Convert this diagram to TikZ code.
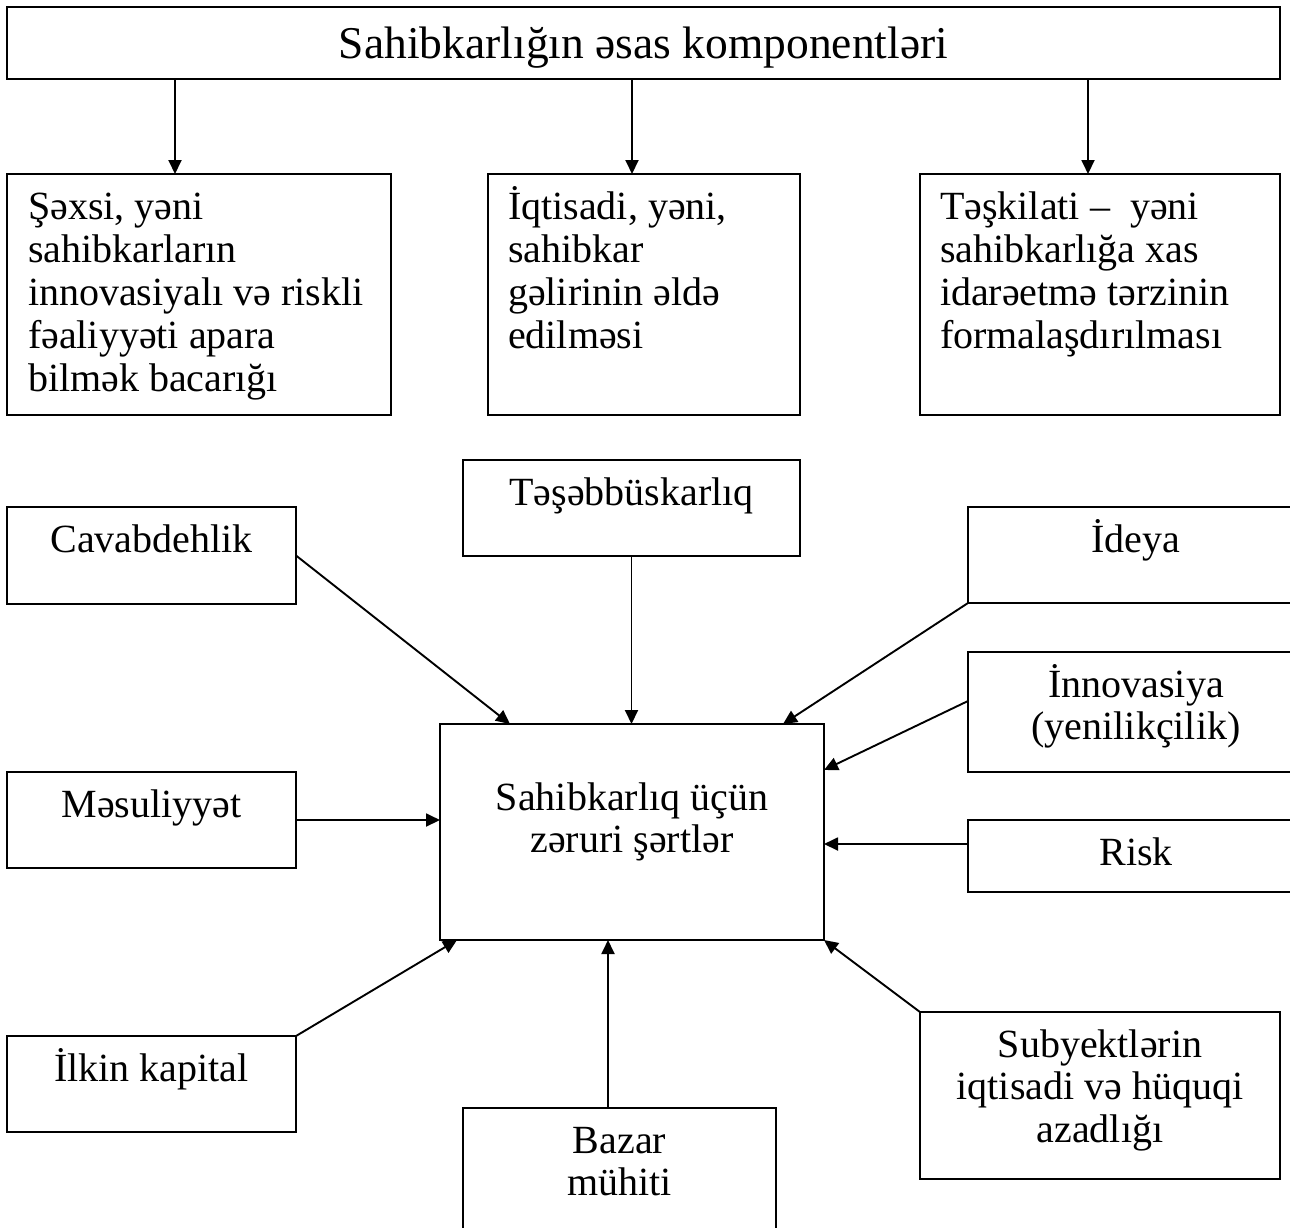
\documentclass[tikz,border=0pt]{standalone}
\usepackage{fontspec}
\setmainfont{Liberation Serif}
\usetikzlibrary{arrows.meta,calc}
\newcommand{\fstrut}{\rule{0pt}{38pt}}
\setlength{\lineskiplimit}{-100pt}
\begin{document}
\begin{tikzpicture}[x=1pt,y=-1pt,
  bx/.style={draw, line width=2.1pt, rectangle, inner sep=0pt, outer sep=0pt},
  txt/.style={inner sep=0pt, outer sep=0pt, align=center,
    font=\fontsize{40}{42.5}\selectfont},
  toptxt/.style={txt, align=left, anchor=north west,
    font=\fontsize{40}{43.2}\selectfont},
  arr/.style={line width=1.9pt, -{Triangle[length=14pt,width=13pt]}}]
\fill[white] (0,0) rectangle (1290,1227);
\useasboundingbox (0,0) rectangle (1290,1227);

% ---- top part ----
\node[bx, minimum width=1273pt, minimum height=72pt] (title) at (643.5,43) {};
\node[anchor=base, inner sep=0pt, font=\fontsize{45.5}{50}\selectfont] (titleT)
  at ($(title.north)+(0,51)$) {Sahibkarlığın əsas komponentləri};

\node[bx, minimum width=384pt, minimum height=241pt] (k1) at (199,294.5) {};
\node[bx, minimum width=312pt, minimum height=241pt] (k2) at (644,294.5) {};
\node[bx, minimum width=360pt, minimum height=241pt] (k3) at (1100,294.5) {};

\node[toptxt] (k1T) at ($(k1.north west)+(21,7)$)
  {\fstrut Şəxsi, yəni\\ sahibkarların\\ innovasiyalı və riskli\\ fəaliyyəti apara\\ bilmək bacarığı};
\node[toptxt] (k2T) at ($(k2.north west)+(20,7)$)
  {\fstrut İqtisadi, yəni,\\ sahibkar\\ gəlirinin əldə\\ edilməsi};
\node[toptxt] (k3T) at ($(k3.north west)+(20,7)$)
  {\fstrut Təşkilati – \ yəni\\ sahibkarlığa xas\\ idarəetmə tərzinin\\ formalaşdırılması};

\draw[arr] ($(title.south west)+(168,0)$) -- ($(k1.north west)+(168,0)$);
\draw[arr] ($(title.south west)+(625,0)$) -- ($(k2.north west)+(144,0)$);
\draw[arr] ($(title.south west)+(1081,0)$) -- ($(k3.north west)+(168,0)$);

% ---- bottom part ----
\node[bx, minimum width=384pt, minimum height=216pt] (c) at (632,832) {};
\node[txt, anchor=north] (cT) at ($(c.north)+(0,48)$)
  {\fstrut Sahibkarlıq üçün\\ zəruri şərtlər};

\node[bx, minimum width=337pt, minimum height=96pt] (tes) at (631.5,508) {};
\node[txt, anchor=north] (tesT) at ($(tes.north)+(0,7)$) {\fstrut Təşəbbüskarlıq};

\node[bx, minimum width=289pt, minimum height=97pt] (cav) at (151.5,555.5) {};
\node[txt, anchor=north] (cavT) at ($(cav.north)+(0,7)$) {\fstrut Cavabdehlik};

\node[bx, minimum width=289pt, minimum height=96pt] (mes) at (151.5,820) {};
\node[txt, anchor=north] (mesT) at ($(mes.north)+(0,7)$) {\fstrut Məsuliyyət};

\node[bx, minimum width=289pt, minimum height=96pt] (ilk) at (151.5,1084) {};
\node[txt, anchor=north] (ilkT) at ($(ilk.north)+(0,7)$) {\fstrut İlkin kapital};

\node[bx, minimum width=336pt, minimum height=96pt] (ide) at (1136,555) {};
\node[txt, anchor=north] (ideT) at ($(ide.north)+(0,7)$) {\fstrut İdeya};

\node[bx, minimum width=336pt, minimum height=120pt] (ino) at (1136,712) {};
\node[txt, anchor=north] (inoT) at ($(ino.north)+(0,7)$) {\fstrut İnnovasiya\\ (yenilikçilik)};

\node[bx, minimum width=336pt, minimum height=72pt] (ris) at (1136,856) {};
\node[txt, anchor=north] (risT) at ($(ris.north)+(0,7)$) {\fstrut Risk};

\node[bx, minimum width=360pt, minimum height=167pt] (sub) at (1100,1095.5) {};
\node[txt, anchor=north] (subT) at ($(sub.north)+(0,7)$)
  {\fstrut Subyektlərin\\ iqtisadi və hüquqi\\ azadlığı};

\node[bx, minimum width=313pt, minimum height=132pt] (baz) at (619.5,1174) {};
\node[txt, anchor=north] (bazT) at ($(baz.north)+(0,7)$) {\fstrut Bazar\\ mühiti};

% connectors
\coordinate (bazA) at ($(baz.north)+(-11.5,0)$);
\draw[arr] (cav.east) -- ($(c.north west)+(70,0)$);
\draw[arr] (tes.south) -- (tes.south |- c.north);
\draw[arr] (ide.south west) -- ($(c.north east)+(-41,0)$);
\draw[arr] ($(ino.west)+(0,-11)$) -- ($(c.north east)+(0,46)$);
\draw[arr] ($(ris.west)+(0,-12)$) -- ($(c.east)+(0,12)$);
\draw[arr] (mes.east) -- (mes.east -| c.west);
\draw[arr] (ilk.north east) -- ($(c.south west)+(17,0)$);
\draw[arr] (bazA) -- (bazA |- c.south);
\draw[arr] (sub.north west) -- (c.south east);
\end{tikzpicture}
\end{document}
